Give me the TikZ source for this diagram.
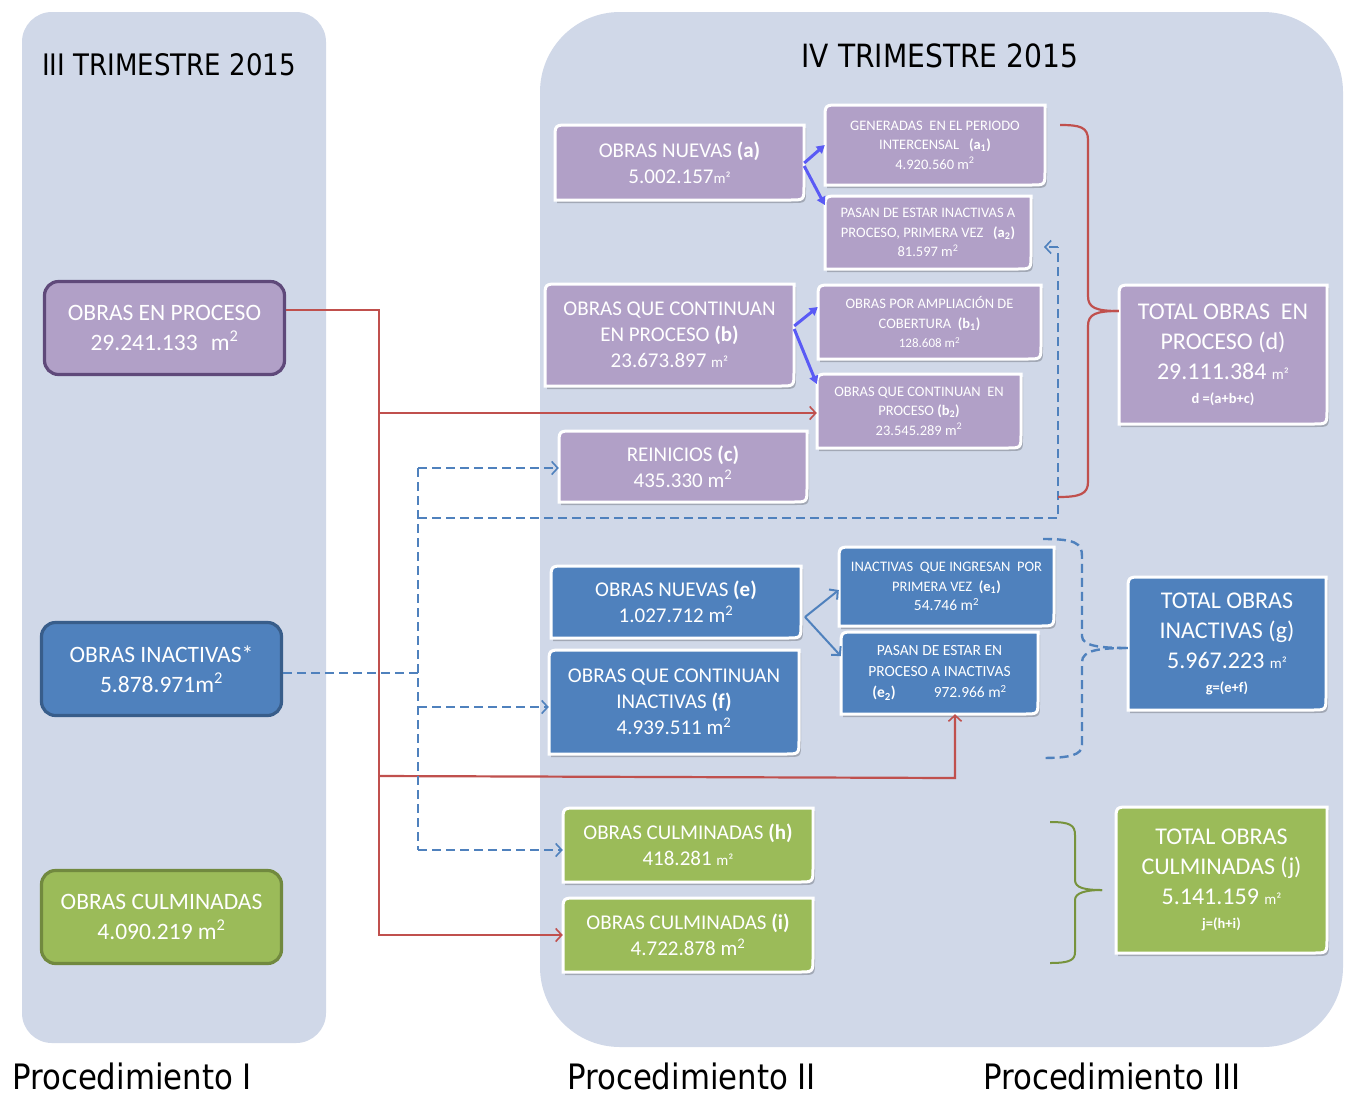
\documentclass[tikz,border=0pt]{standalone}
\usepackage{fontspec}
\setmainfont{Carlito}
\newfontfamily\tfont[FakeStretch=0.88]{DejaVu Sans}
\usetikzlibrary{arrows.meta}
\definecolor{panel}{HTML}{D0D8E8}
\definecolor{pur}{HTML}{B1A0C7}
\definecolor{purb}{HTML}{5F497A}
\definecolor{blu}{HTML}{4F81BD}
\definecolor{blub}{HTML}{385D8A}
\definecolor{grn}{HTML}{9BBB59}
\definecolor{grnb}{HTML}{71893F}
\definecolor{redl}{HTML}{C0504D}
\definecolor{vio}{HTML}{5A5AF5}
\definecolor{grnbr}{HTML}{77933C}
\newcommand\fA{\fontsize{21}{26}\selectfont}
\newcommand\fS{\fontsize{14.5}{19.5}\selectfont}
\newcommand\fE{\fontsize{15.5}{21}\selectfont}
\newcommand\fT{\fontsize{24}{30}\selectfont}
\newcommand\sm{\fontsize{15}{15}\selectfont}
\newcommand\fm{\fontsize{14.5}{18}\selectfont\bfseries}
\tikzset{
  bt/.style={text=white, align=center, inner sep=0pt},
  lbox/.style={bt, line width=3.2pt, rounded corners=14pt, minimum width=240pt, minimum height=93pt, font=\fontsize{23.5}{30}\selectfont},
  redline/.style={draw=redl, line width=2.2pt},
  bdash/.style={draw=blu, line width=2.4pt, dash pattern=on 9pt off 5pt},
  barb/.style={-{Straight Barb[length=6pt,width=13pt,line width=1.6pt]}},
  vioarrow/.style={draw=vio, line width=3pt, -{Triangle[length=8pt,width=9pt]}},
  bluarrow/.style={draw=blu, line width=2pt, -{Straight Barb[length=6pt,width=13pt]}},
  ttl/.style={font=\tfont, inner sep=0pt}
}
\newcommand\dbox[8]{%
  \fill[black,opacity=.22,shift={(2pt,-3pt)}] (#2,#5) -- (#2,#3+14) .. controls (#2,#3) .. (#2+14,#3) -- (#4,#3) -- (#4,#5-14) .. controls (#4,#5) .. (#4-14,#5) -- cycle;
  \path[fill=#6,draw=white,line width=3pt] (#2,#5) -- (#2,#3+14) .. controls (#2,#3) .. (#2+14,#3) -- (#4,#3) -- (#4,#5-14) .. controls (#4,#5) .. (#4-14,#5) -- cycle;
  \node[bt,font=#7,minimum width={(#4-#2)*1pt},minimum height={(#5-#3)*1pt}] (#1) at ({(#2+#4)/2},{(#3+#5)/2}) {#8};
}
\begin{document}
\begin{tikzpicture}[x=1pt,y=-1pt]
\useasboundingbox (0,0) rectangle (1350,1096);
\fill[white] (0,0) rectangle (1350,1096);
% panels
\fill[panel, rounded corners=30pt] (22,12) rectangle (326,1043);
\fill[panel, rounded corners=80pt] (540,12) rectangle (1343,1047);
% titles
\node[ttl, anchor=base west, font=\tfont\fontsize{29.6}{30}\selectfont] (t3) at (42,75) {III TRIMESTRE 2015};
\node[ttl, anchor=base, font=\tfont\fontsize{32}{32}\selectfont] (t4) at (940,67) {IV TRIMESTRE 2015};
\node[ttl, anchor=base west, font=\tfont\fontsize{35}{35}\selectfont] (p1) at (12,1089) {Procedimiento I};
\node[ttl, anchor=base west, font=\tfont\fontsize{35}{35}\selectfont] (p2) at (567,1089) {Procedimiento II};
\node[ttl, anchor=base west, font=\tfont\fontsize{35}{35}\selectfont] (p3) at (983,1089) {Procedimiento III};
% left boxes
\node[lbox, draw=purb, fill=pur] (pro) at (164.5,328) {OBRAS EN PROCESO\\29.241.133\,\, m\textsuperscript{2}};
\node[lbox, draw=blub, fill=blu] (ina) at (161.5,669) {OBRAS INACTIVAS*\\5.878.971m\textsuperscript{2}};
\node[lbox, draw=grnb, fill=grn] (cul) at (161.5,917) {OBRAS CULMINADAS\\4.090.219 m\textsuperscript{2}};
% right boxes
\dbox{a}{555}{125}{804}{200}{pur}{\fA}{OBRAS NUEVAS \textbf{(a)}\\5.002.157{\sm m²}}
\dbox{a1}{825}{105}{1045}{185}{pur}{\fS}{GENERADAS~~EN EL PERIODO\\INTERCENSAL~~~\textbf{(a\textsubscript{1})}\\4.920.560 m\textsuperscript{2}}
\dbox{a2}{825}{196}{1031}{269}{pur}{\fS}{PASAN DE ESTAR INACTIVAS A\\PROCESO, PRIMERA VEZ~~~\textbf{(a\textsubscript{2})}\\81.597 m\textsuperscript{2}}
\dbox{b}{545}{284}{794}{386}{pur}{\fA}{OBRAS QUE CONTINUAN\\EN PROCESO \textbf{(b)}\\23.673.897 {\sm m²}}
\dbox{b1}{818}{285}{1041}{359}{pur}{\fS}{OBRAS POR AMPLIACIÓN DE\\COBERTURA~~\textbf{(b\textsubscript{1})}\\{\fontsize{13}{14}\selectfont 128.608 m\textsuperscript{2}}}
\dbox{b2}{817}{374}{1021}{448}{pur}{\fS}{OBRAS QUE CONTINUAN~~EN\\PROCESO \textbf{(b\textsubscript{2})}\\23.545.289 m\textsuperscript{2}}
\dbox{c}{559}{431}{807}{502}{pur}{\fA}{REINICIOS \textbf{(c)}\\435.330 m\textsuperscript{2}}
\dbox{dtot}{1119}{285}{1327}{424}{pur}{\fT}{TOTAL OBRAS~~EN\\PROCESO (d)\\29.111.384 {\sm m²}\\[-6pt]{\fm d =(a+b+c)}}
\dbox{e}{551}{566}{801}{638}{blu}{\fA}{OBRAS NUEVAS \textbf{(e)}\\1.027.712 m\textsuperscript{2}}
\dbox{f}{549}{650}{799}{754}{blu}{\fA}{OBRAS QUE CONTINUAN\\INACTIVAS \textbf{(f)}\\4.939.511 m\textsuperscript{2}}
\dbox{e1}{839}{547}{1054}{626}{blu}{\fS}{INACTIVAS~~QUE INGRESAN~~POR\\PRIMERA VEZ~~\textbf{(e\textsubscript{1})}\\{\fE 54.746 m\textsuperscript{2}}}
\dbox{e2}{841}{632}{1038}{714}{blu}{\fE}{PASAN DE ESTAR EN\\PROCESO A INACTIVAS\\\textbf{(e\textsubscript{2})}\hspace{38pt}972.966 m\textsuperscript{2}}
\dbox{gtot}{1128}{577}{1326}{710}{blu}{\fT}{TOTAL OBRAS\\INACTIVAS (g)\\5.967.223 {\sm m²}\\[-6pt]{\fm g=(e+f)}}
\dbox{h}{563}{808}{813}{882}{grn}{\fA}{OBRAS CULMINADAS \textbf{(h)}\\418.281 {\sm m²}}
\dbox{i}{563}{898}{813}{972}{grn}{\fA}{OBRAS CULMINADAS \textbf{(i)}\\4.722.878 m\textsuperscript{2}}
\dbox{jtot}{1116}{807}{1327}{953}{grn}{\fT}{TOTAL OBRAS\\CULMINADAS (j)\\5.141.159 {\sm m²}\\[-6pt]{\fm j=(h+i)}}
% red connectors
\coordinate (r1) at (379,310);
\coordinate (r2) at (379,413);
\coordinate (r3) at (379,776);
\coordinate (r4) at (379,935);
\coordinate (r5) at (955,778);
\draw[redline, barb] (pro.east |- r1) -- (r1) -- (r4) -- (i.west |- r4);
\draw[redline, barb] (r2) -- (b2.west |- r2);
\draw[redline, barb] (r3) -- (r5) -- (r5 |- e2.south);
% blue dashed connectors
\coordinate (v1) at (418,468);
\coordinate (v2) at (418,518);
\coordinate (v3) at (418,673);
\coordinate (v4) at (418,707);
\coordinate (v5) at (418,850);
\coordinate (v6) at (1058,518);
\coordinate (v7) at (1058,247);
\coordinate (v8) at (1044,247);
\draw[bdash] (ina.east |- v3) -- (v3);
\draw[bdash] (v1) -- (v5);
\draw[bdash, barb] (v1) -- (c.west |- v1);
\draw[bdash] (v2) -- (v6) -- (v7);
\draw[bdash, barb] (v7) -- (v8);
\draw[bdash, barb] (v4) -- (f.west |- v4);
\draw[bdash, barb] (v5) -- (h.west |- v5);
% violet arrows
\draw[vioarrow] (a.east |- 0,163) -- (a1.west |- 0,145);
\draw[vioarrow] (a.east |- 0,166) -- (a2.west |- 0,205);
\draw[vioarrow] (b.east |- 0,326) -- (b1.west |- 0,307);
\draw[vioarrow] (b.east |- 0,329) -- (b2.west |- 0,384);
% blue arrows (e)
\coordinate (es) at (805,617);
\draw[bluarrow] (es) -- (e1.west |- 0,590);
\draw[bluarrow] (es) -- (e2.west |- 0,656);
% braces
\draw[redline] (1060,125) .. controls (1080,125) and (1088,127) .. (1088,140) -- (1088,296) .. controls (1088,308) and (1096,311) .. (dtot.west |- 0,311);
\draw[redline] (dtot.west |- 0,311) .. controls (1096,311) and (1088,314) .. (1088,326) -- (1088,482) .. controls (1088,494) and (1080,497) .. (1058,497);
\draw[bdash] (1043,539) .. controls (1075,539) and (1082,543) .. (1082,556) -- (1082,636) .. controls (1082,646) and (1100,648) .. (gtot.west |- 0,648);
\draw[bdash] (gtot.west |- 0,648) .. controls (1100,648) and (1082,650) .. (1082,662) -- (1082,745) .. controls (1082,755) and (1070,758) .. (1041,758);
\draw[draw=grnbr, line width=2pt] (1050,822) .. controls (1070,822) and (1075,825) .. (1075,835) -- (1075,880) .. controls (1075,888) and (1085,890) .. (1102,890);
\draw[draw=grnbr, line width=2pt] (1102,890) .. controls (1085,890) and (1075,893) .. (1075,900) -- (1075,952) .. controls (1075,960) and (1070,963) .. (1050,963);
\end{tikzpicture}
\end{document}
